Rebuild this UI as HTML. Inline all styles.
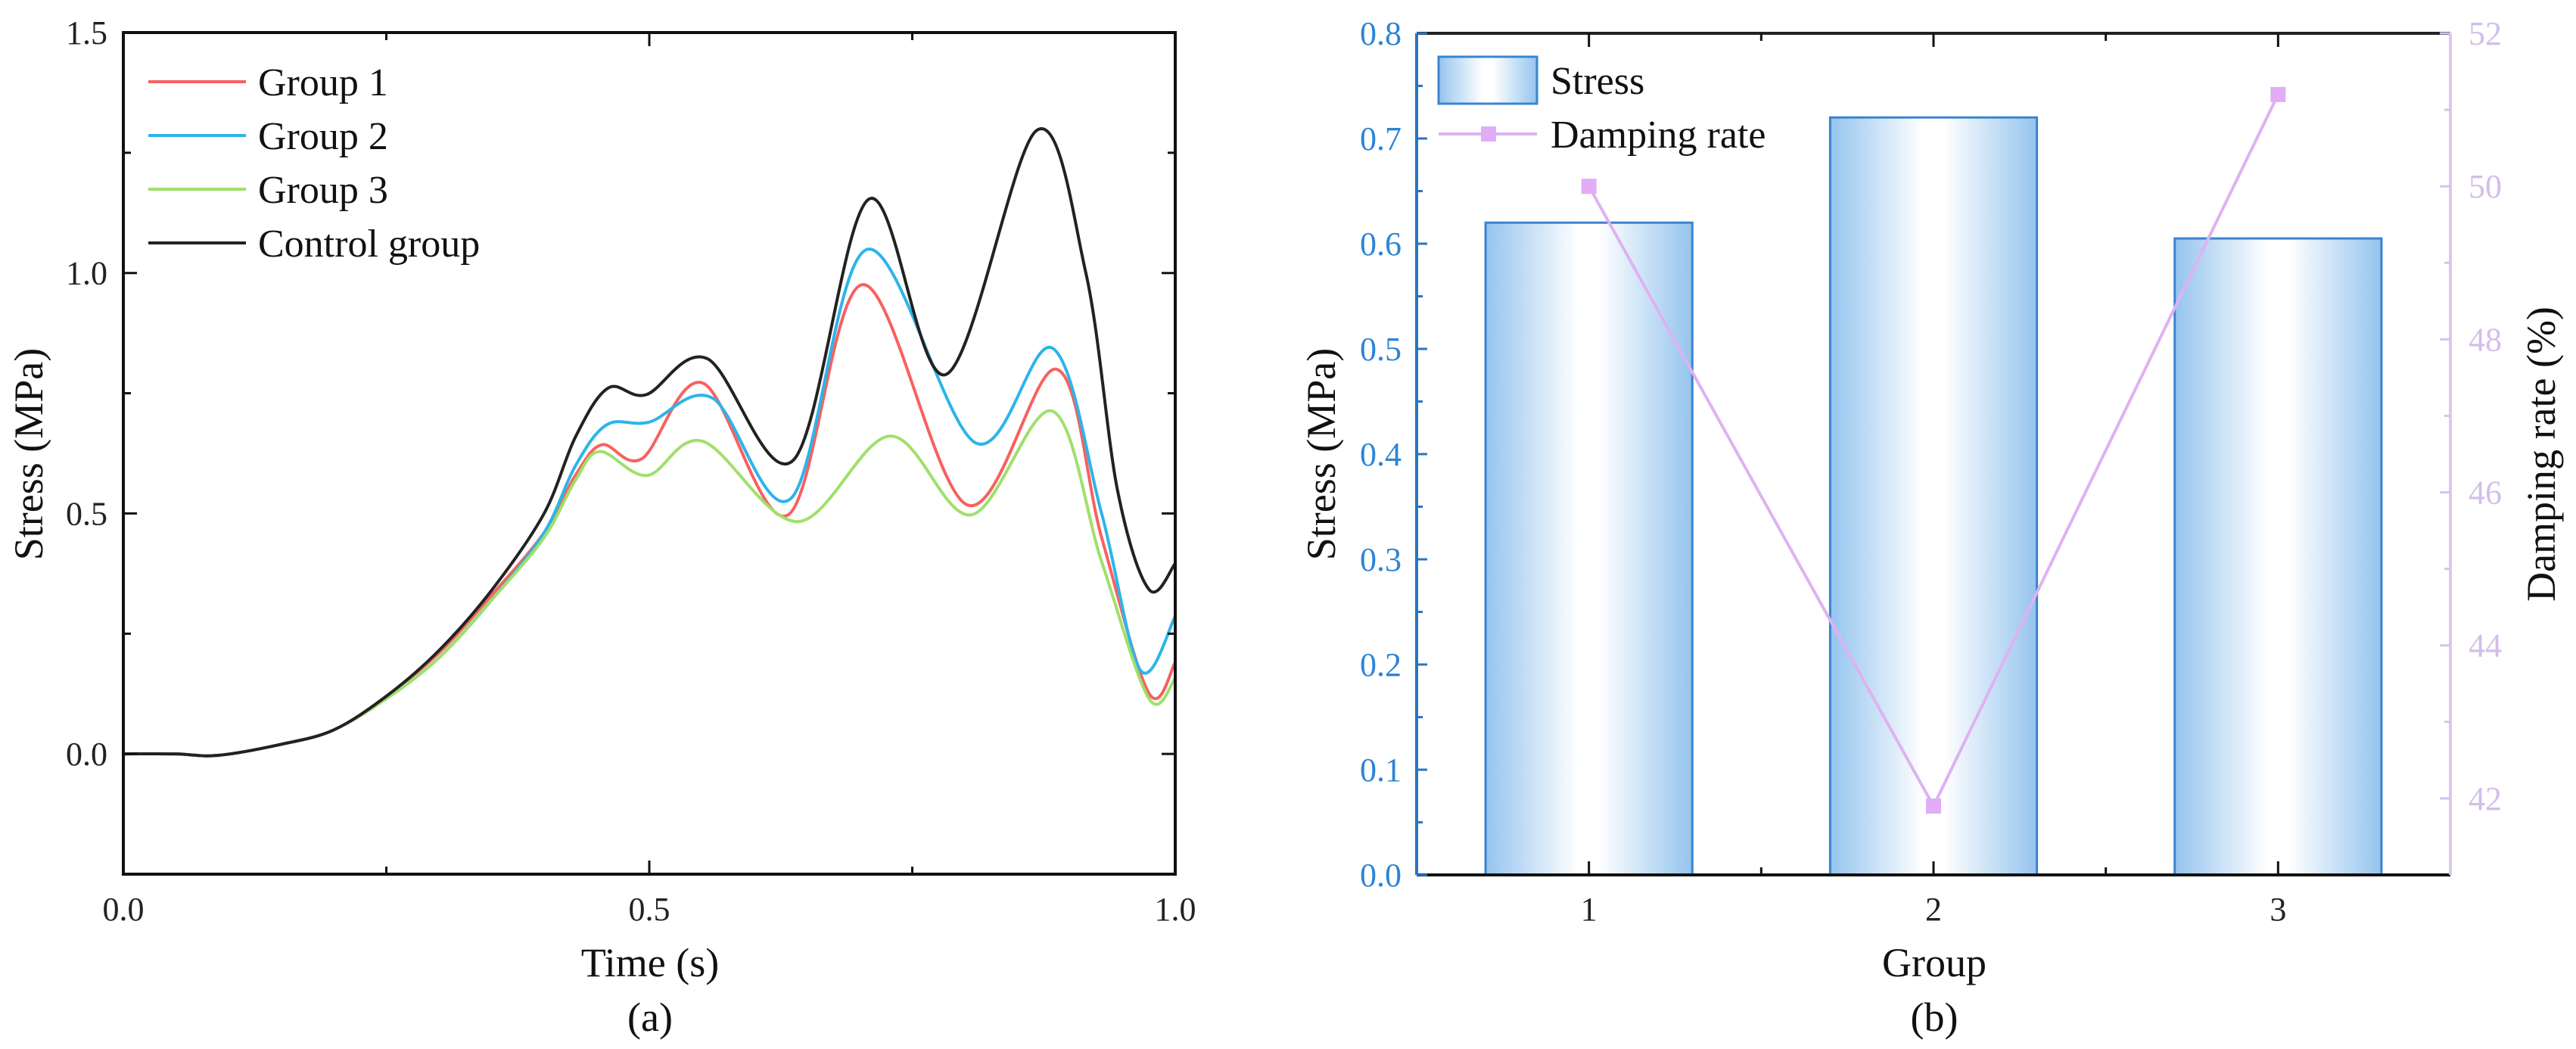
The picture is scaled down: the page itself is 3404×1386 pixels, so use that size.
<!DOCTYPE html>
<html><head><meta charset="utf-8"><style>
html,body{margin:0;padding:0;background:#fff}
svg{display:block;font-family:"Liberation Serif",serif}
</style></head><body>
<svg id="fig" width="3404" height="1386" viewBox="0 0 3404 1386" xmlns="http://www.w3.org/2000/svg">
<defs>
<linearGradient id="barGrad" x1="0" x2="1" y1="0" y2="0">
<stop offset="0" stop-color="#95c4ee"/><stop offset="0.45" stop-color="#ffffff"/><stop offset="0.55" stop-color="#ffffff"/><stop offset="1" stop-color="#95c4ee"/>
</linearGradient>
</defs>
<g id="panelA"></g>
<g id="panelB"></g>
</svg>
<script>
// ---------- Panel (a) data ----------
const seriesNames = ["Group 1","Group 2","Group 3","Control group"];
const seriesColors = ["#f7615f","#2db4ea","#9fe06a","#222222"];
const g1T = [0,0.05,0.09,0.15,0.2,0.25,0.3,0.35,0.4,0.43,0.455,0.493,0.551,0.632,0.703,0.802,0.887,0.93,0.975,1];
const g1V = [0,0,-0.003,0.02,0.05,0.12,0.21,0.33,0.46,0.58,0.643,0.614,0.771,0.497,0.976,0.518,0.8,0.45,0.126,0.19];
const g2T = [0,0.05,0.09,0.15,0.2,0.25,0.3,0.35,0.4,0.43,0.46,0.5,0.56,0.635,0.707,0.81,0.883,0.93,0.967,1];
const g2V = [0,0,-0.003,0.02,0.05,0.115,0.2,0.32,0.46,0.6,0.685,0.69,0.74,0.532,1.049,0.647,0.844,0.5,0.174,0.286];
const g3T = [0,0.05,0.09,0.15,0.2,0.25,0.3,0.35,0.4,0.43,0.453,0.498,0.551,0.641,0.729,0.806,0.883,0.93,0.975,1];
const g3V = [0,0,-0.003,0.02,0.05,0.115,0.2,0.32,0.45,0.57,0.629,0.579,0.65,0.483,0.661,0.497,0.713,0.4,0.115,0.157];
const ctT = [0,0.05,0.09,0.15,0.2,0.25,0.3,0.35,0.4,0.43,0.461,0.497,0.555,0.637,0.709,0.782,0.868,0.915,0.945,0.975,1];
const ctV = [0,0,-0.003,0.02,0.05,0.12,0.215,0.34,0.5,0.66,0.761,0.747,0.822,0.611,1.154,0.789,1.296,1.0,0.55,0.342,0.396];
const xTicksA = [0,0.5,1.0];
const xTickLabelsA = ["0.0","0.5","1.0"];
const yTicksA = [0,0.5,1.0,1.5];
const yTickLabelsA = ["0.0","0.5","1.0","1.5"];
// ---------- Panel (b) data ----------
const groups = ["1","2","3"];
const stressVals = [0.62,0.72,0.605];
const dampVals = [50.0,41.9,51.2];
const yTicksB = [0,0.1,0.2,0.3,0.4,0.5,0.6,0.7,0.8];
const yTickLabelsB = ["0.0","0.1","0.2","0.3","0.4","0.5","0.6","0.7","0.8"];
const y2TicksB = [42,44,46,48,50,52];
const y2TickLabelsB = ["42","44","46","48","50","52"];

const NS="http://www.w3.org/2000/svg";
function mk(parent,tag,attrs,text){const e=document.createElementNS(NS,tag);for(const k in attrs)e.setAttribute(k,attrs[k]);if(text!==undefined)e.textContent=text;parent.appendChild(e);return e;}
function smooth(pts){
  let d="M"+pts[0][0].toFixed(1)+","+pts[0][1].toFixed(1);
  for(let i=0;i<pts.length-1;i++){
    const p0=pts[Math.max(0,i-1)],p1=pts[i],p2=pts[i+1],p3=pts[Math.min(pts.length-1,i+2)];
    const c1=[p1[0]+(p2[0]-p0[0])/6,p1[1]+(p2[1]-p0[1])/6];
    const c2=[p2[0]-(p3[0]-p1[0])/6,p2[1]-(p3[1]-p1[1])/6];
    d+=" C"+c1[0].toFixed(1)+","+c1[1].toFixed(1)+" "+c2[0].toFixed(1)+","+c2[1].toFixed(1)+" "+p2[0].toFixed(1)+","+p2[1].toFixed(1);
  }
  return d;
}

// ---------- Panel (a) ----------
(function(){
  const A=document.getElementById("panelA");
  const L=163,R=1553,T=43,B=1155;
  const xA=t=>L+(t-0)/(1-0)*(R-L);
  const yA=v=>B-(v-(-0.25))/(1.5-(-0.25))*(B-T);
  const ts=[g1T,g2T,g3T,ctT], vs=[g1V,g2V,g3V,ctV];
  const clip=mk(A,"clipPath",{id:"clipA"});mk(clip,"rect",{x:L,y:T,width:R-L,height:B-T});
  for(let s=0;s<4;s++){
    const pts=ts[s].map((t,i)=>[xA(t),yA(vs[s][i])]);
    const p=mk(A,"path",{d:smooth(pts),fill:"none",stroke:seriesColors[s],"stroke-width":4,"clip-path":"url(#clipA)"});
    
    
  }
  const fr=mk(A,"rect",{x:L,y:T,width:R-L,height:B-T,fill:"none",stroke:"#111","stroke-width":4});
  
  
  [0,0.25,0.5,0.75,1].forEach(t=>{
    const len=(t*4)%2===0?18:10;
    mk(A,"line",{x1:xA(t),x2:xA(t),y1:B,y2:B-len,stroke:"#111","stroke-width":3});
    mk(A,"line",{x1:xA(t),x2:xA(t),y1:T,y2:T+len,stroke:"#111","stroke-width":3});
  });
  [-0.25,0,0.25,0.5,0.75,1,1.25,1.5].forEach(v=>{
    const len=(v*4)%2===0?18:10;
    mk(A,"line",{x1:L,x2:L+len,y1:yA(v),y2:yA(v),stroke:"#111","stroke-width":3});
    mk(A,"line",{x1:R,x2:R-len,y1:yA(v),y2:yA(v),stroke:"#111","stroke-width":3});
  });
  xTicksA.forEach((t,i)=>{
    const e=mk(A,"text",{x:xA(t),y:1216,"font-size":44,"text-anchor":"middle",fill:"#222"},xTickLabelsA[i]);
    
    
  });
  yTicksA.forEach((v,i)=>{
    const e=mk(A,"text",{x:142,y:yA(v)+15,"font-size":44,"text-anchor":"end",fill:"#222"},yTickLabelsA[i]);
    
    
  });
  let e=mk(A,"text",{x:859,y:1290,"font-size":54,"text-anchor":"middle",fill:"#111"},"Time (s)");
  
  
  e=mk(A,"text",{x:0,y:0,"font-size":54,"text-anchor":"middle",fill:"#111",transform:"translate(56,600) rotate(-90)"},"Stress (MPa)");
  
  
  e=mk(A,"text",{x:859,y:1362,"font-size":54,"text-anchor":"middle",fill:"#111"},"(a)");
  
  
  const legY=[108,179,250,321];
  for(let s=0;s<4;s++){
    const g=mk(A,"g",{});
    
    
    mk(g,"line",{x1:196,x2:325,y1:legY[s],y2:legY[s],stroke:seriesColors[s],"stroke-width":4});
    mk(g,"text",{x:341,y:legY[s]+18,"font-size":52,fill:"#111"},seriesNames[s]);
  }
})();

// ---------- Panel (b) ----------
(function(){
  const P=document.getElementById("panelB");
  const L=1872,R=3238,T=44,B=1156;
  const xB=g=>L+(g-0.5)/(3.5-0.5)*(R-L);
  const yB=v=>B-(v-0)/(0.8-0)*(B-T);
  const y2=v=>B-(v-41)/(52-41)*(B-T);
  const bw=0.6*(R-L)/3;
  groups.forEach((g,i)=>{
    const r=mk(P,"rect",{x:xB(i+1)-bw/2,y:yB(stressVals[i]),width:bw,height:B-yB(stressVals[i]),fill:"url(#barGrad)",stroke:"#3a84cf","stroke-width":3});
    
    
  });
  const pts=dampVals.map((v,i)=>xB(i+1)+","+y2(v)).join(" ");
  const pl=mk(P,"polyline",{points:pts,fill:"none",stroke:"#deb2f2","stroke-width":4});
  
  
  dampVals.forEach((v,i)=>{
    const m=mk(P,"rect",{x:xB(i+1)-10,y:y2(v)-10,width:20,height:20,fill:"#e2acf7"});
    
    
  });
  mk(P,"line",{x1:L,x2:R,y1:T,y2:T,stroke:"#222","stroke-width":4});
  mk(P,"line",{x1:L,x2:R,y1:B,y2:B,stroke:"#111","stroke-width":4});
  let ax=mk(P,"line",{x1:L,x2:L,y1:T,y2:B,stroke:"#2a74c4","stroke-width":4});
  
  
  ax=mk(P,"line",{x1:R,x2:R,y1:T,y2:B,stroke:"#dac8ee","stroke-width":4});
  
  
  [1,1.5,2,2.5,3].forEach(g=>{
    const len=Number.isInteger(g)?18:10;
    mk(P,"line",{x1:xB(g),x2:xB(g),y1:B,y2:B-len,stroke:"#111","stroke-width":3});
    mk(P,"line",{x1:xB(g),x2:xB(g),y1:T,y2:T+len,stroke:"#111","stroke-width":3});
  });
  for(let k=0;k<=16;k++){const v=k*0.05;const len=k%2===0?14:8;
    mk(P,"line",{x1:L,x2:L+len,y1:yB(v),y2:yB(v),stroke:"#2a74c4","stroke-width":3});}
  for(let v=42;v<=52;v++){const len=v%2===0?14:8;
    mk(P,"line",{x1:R,x2:R-len,y1:y2(v),y2:y2(v),stroke:"#d6c2ee","stroke-width":3});}
  groups.forEach((g,i)=>{
    const e=mk(P,"text",{x:xB(i+1),y:1216,"font-size":44,"text-anchor":"middle",fill:"#222"},g);
    
    
  });
  yTicksB.forEach((v,i)=>{
    const e=mk(P,"text",{x:1852,y:yB(v)+15,"font-size":44,"text-anchor":"end",fill:"#2d84d6"},yTickLabelsB[i]);
    
    
  });
  y2TicksB.forEach((v,i)=>{
    const e=mk(P,"text",{x:3262,y:y2(v)+15,"font-size":44,"text-anchor":"start",fill:"#d3bdea"},y2TickLabelsB[i]);
    
    
  });
  let e=mk(P,"text",{x:2556,y:1290,"font-size":54,"text-anchor":"middle",fill:"#111"},"Group");
  
  
  e=mk(P,"text",{x:0,y:0,"font-size":54,"text-anchor":"middle",fill:"#111",transform:"translate(1764,600) rotate(-90)"},"Stress (MPa)");
  
  
  e=mk(P,"text",{x:0,y:0,"font-size":54,"text-anchor":"middle",fill:"#111",transform:"translate(3376,600) rotate(-90)"},"Damping rate (%)");
  
  
  e=mk(P,"text",{x:2556,y:1362,"font-size":54,"text-anchor":"middle",fill:"#111"},"(b)");
  
  
  let g=mk(P,"g",{});
  
  
  mk(g,"rect",{x:1901,y:75,width:130,height:62,fill:"url(#barGrad)",stroke:"#3a84cf","stroke-width":3});
  mk(g,"text",{x:2049,y:124,"font-size":52,fill:"#111"},"Stress");
  g=mk(P,"g",{});
  
  
  mk(g,"line",{x1:1901,x2:2031,y1:177,y2:177,stroke:"#deb2f2","stroke-width":4});
  mk(g,"rect",{x:1957,y:167,width:20,height:20,fill:"#e2acf7"});
  mk(g,"text",{x:2049,y:195,"font-size":52,fill:"#111"},"Damping rate");
})();
</script>
</body></html>
